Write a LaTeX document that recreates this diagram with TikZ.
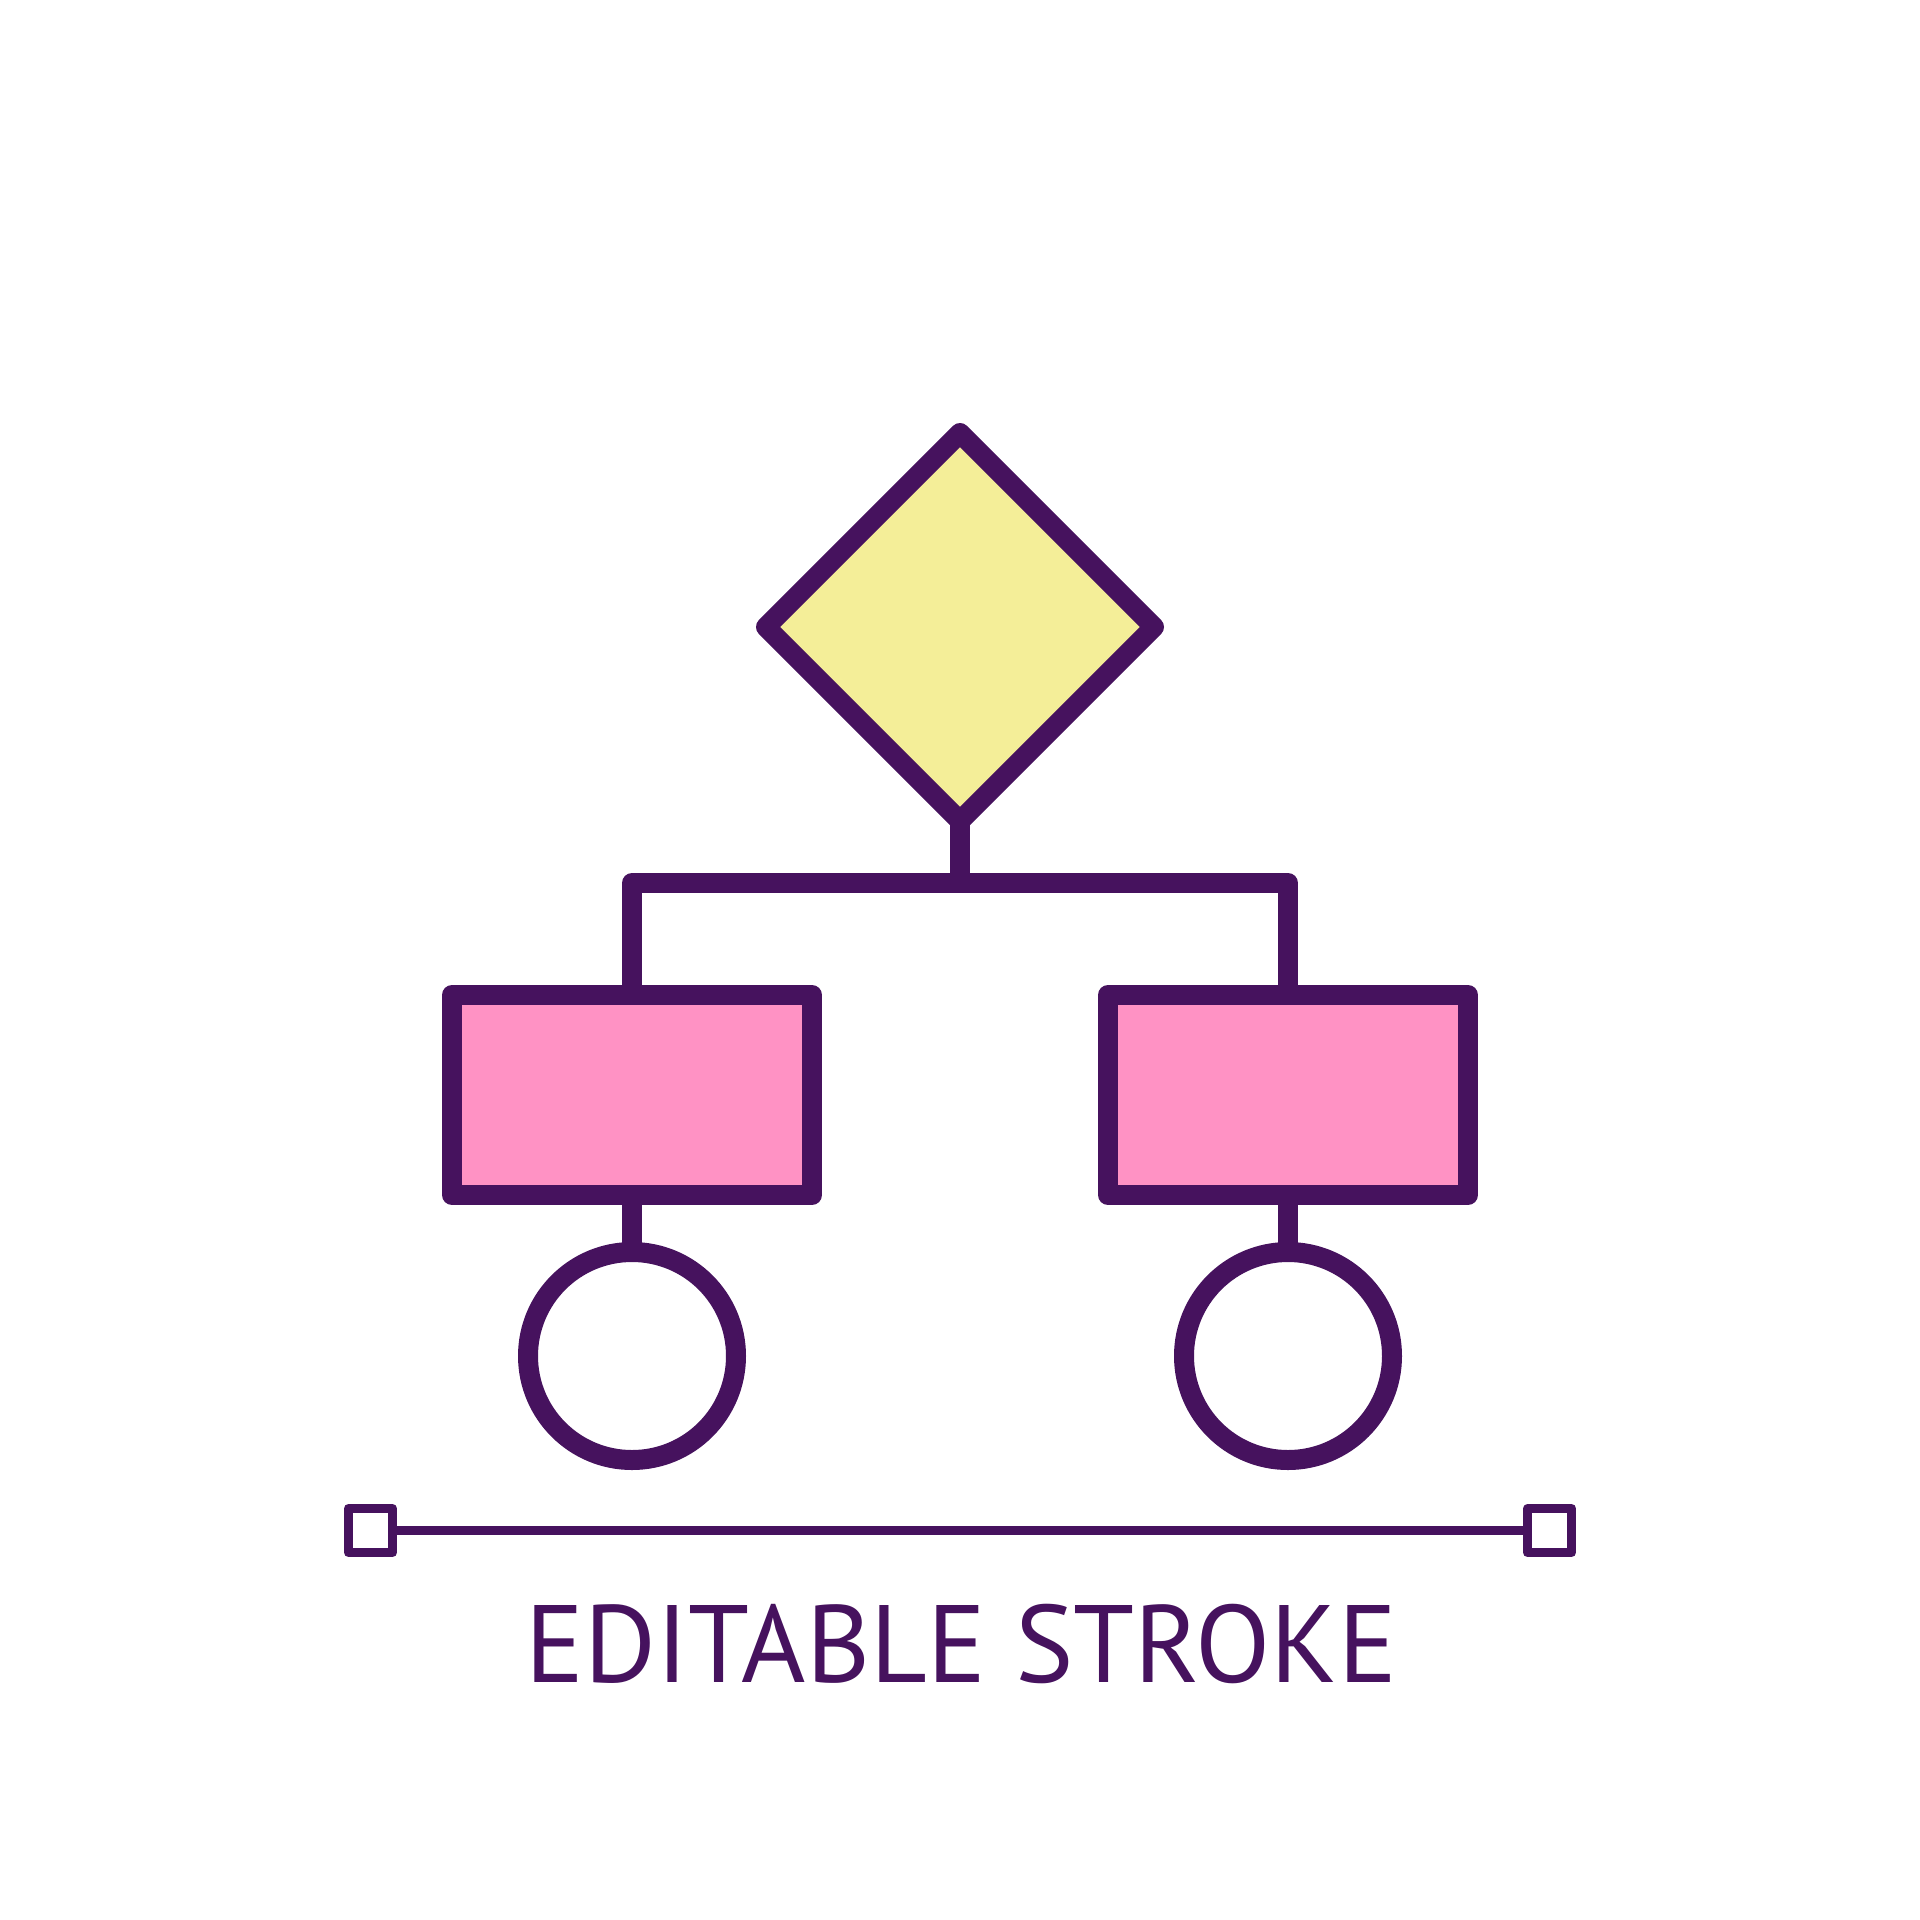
\documentclass[tikz,border=0pt]{standalone}
\usepackage{fontspec}
\setmainfont{PT Sans}
\usetikzlibrary{shapes.geometric,backgrounds}
\definecolor{ink}{RGB}{70,18,94}
\definecolor{lemon}{RGB}{244,238,152}
\definecolor{rose}{RGB}{255,146,196}
\begin{document}
\begin{tikzpicture}[x=1pt,y=-1pt,
  thick stroke/.style={draw=ink,line width=20pt,line join=round,line cap=round},
  choice/.style={thick stroke,shape=diamond,aspect=1,fill=lemon,minimum width=388pt,minimum height=388pt,inner sep=0pt,outer sep=0pt},
  stepbox/.style={thick stroke,shape=rectangle,fill=rose,minimum width=360pt,minimum height=200pt,inner sep=0pt,outer sep=0pt},
  endcircle/.style={thick stroke,shape=circle,fill=white,minimum size=208pt,inner sep=0pt,outer sep=0pt},
  handle/.style={draw=ink,line width=9pt,line join=round,shape=rectangle,fill=white,minimum size=44pt,inner sep=0pt,outer sep=0pt},
  link/.style={draw=ink,line width=20pt,line join=round}]
\useasboundingbox (0,0) rectangle (1920,1920);
\coordinate (junc) at (960,883);
\node[choice] (d) at (960,627) {};
\node[stepbox] (l) at (632,1095) {};
\node[stepbox] (r) at (1288,1095) {};
\node[endcircle] (lc) at (632,1356) {};
\node[endcircle] (rc) at (1288,1356) {};
\begin{scope}[on background layer]
\draw[link] (d.center) -- (junc);
\draw[link] (l.center) -- (l.north |- junc) -- (r.north |- junc) -- (r.center);
\draw[link] (l.center) -- (lc.center);
\draw[link] (r.center) -- (rc.center);
\end{scope}
% editable stroke bar
\node[handle] (hl) at (370.5,1530.5) {};
\node[handle] (hr) at (1549.5,1530.5) {};
\draw[draw=ink,line width=9pt] (hl.east) -- (hr.west);
\node[text=ink,anchor=base,inner sep=0pt] (lbl) at (961,1682) {\fontsize{110}{110}\selectfont EDITABLE STROKE};
\end{tikzpicture}
\end{document}
